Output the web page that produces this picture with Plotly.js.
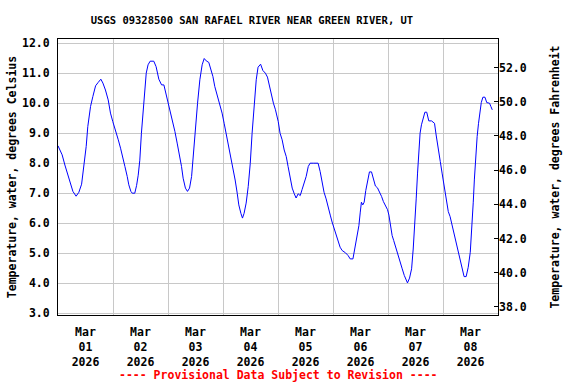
<!DOCTYPE html>
<html>
<head>
<meta charset="utf-8">
<script src="https://cdn.plot.ly/plotly-3.0.1.min.js"></script>
<style>html,body{margin:0;padding:0;background:#fff}#chart{width:576px;height:384px}</style>
</head>
<body>
<div id="chart"></div>
<script>
// Hours since 2026-03-01 00:00 (local) and water temperature (deg C)
const startDate = "2026-03-01";
const hours = [
  0,1.8,3.0,4.4,5.5,6.5,7.9,9.1,10.3,11.3,12.3,13.0,14.2,15.2,16.4,17.5,18.7,19.6,20.7,21.9,22.9,23.9,
  25.1,26.3,27.3,28.3,29.2,30.2,30.9,31.8,32.4,33.5,34.3,35.0,35.7,36.4,37.0,37.7,38.5,39.3,40.2,41.8,42.8,44.0,45.2,46.2,46.9,
  48.1,49.1,50.1,51.0,52.0,53.0,53.9,54.6,55.6,56.5,57.4,58.3,59.1,60.0,60.9,61.9,62.9,63.8,64.7,65.8,66.7,67.6,68.4,69.5,70.5,71.6,
  72.5,73.5,74.5,75.6,76.4,77.3,78.2,78.9,79.8,80.5,81.2,82.1,83.0,83.9,84.7,85.6,86.5,87.3,88.4,89.4,90.5,91.4,92.3,93.2,94.0,94.9,
  96.1,96.9,97.8,98.7,99.6,100.4,101.3,102.2,103.1,103.9,104.8,105.7,106.5,107.4,108.3,109.2,110.0,111.6,113.5,114.4,115.3,116.1,117.0,117.9,118.8,119.6,
  120.5,121.4,122.3,123.1,124.0,125.5,126.6,127.5,128.7,129.5,130.4,131.3,131.9,132.4,133.0,133.6,134.3,135.1,135.9,136.8,137.7,138.5,139.4,140.3,141.2,142.0,142.9,
  143.8,144.4,145.1,145.8,146.5,147.3,148.0,148.7,149.5,150.2,151.1,151.9,152.5,153.4,154.3,155.0,155.7,156.3,156.9,157.5,158.0,158.6,159.3,160.1,160.9,161.8,163.0,164.3,165.0,165.9,166.8,167.6,
  168.5,169.4,170.3,171.1,172.0,172.9,173.7,174.6,175.5,176.4,177.2,178.1,179.0,179.9,180.6,181.2,181.7,182.3,182.9,183.5,184.1,184.7,185.4,186.3,187.1,188.3,188.9,189.5
];
const tempC = [
  8.58,8.28,7.94,7.61,7.33,7.06,6.9,7.03,7.3,7.89,8.56,9.22,9.89,10.22,10.58,10.69,10.8,10.67,10.44,10.11,9.67,9.39,
  9.11,8.78,8.5,8.22,7.89,7.56,7.28,7.06,7.0,7.0,7.26,7.6,8.1,9.0,9.56,10.33,11.0,11.28,11.4,11.4,11.22,10.8,10.61,10.61,10.39,
  10.0,9.61,9.33,9.06,8.67,8.28,7.89,7.5,7.17,7.06,7.17,7.56,8.33,9.33,10.0,10.78,11.28,11.49,11.41,11.36,11.11,10.89,10.56,10.28,10.0,9.67,
  9.33,8.94,8.56,8.17,7.83,7.44,7.0,6.61,6.33,6.17,6.33,6.67,7.22,8.0,9.0,10.0,10.78,11.2,11.3,11.09,11.0,10.87,10.56,10.22,10.0,9.78,
  9.39,9.0,8.78,8.44,8.22,7.89,7.56,7.17,6.98,6.84,6.98,6.92,7.12,7.36,7.56,7.89,8.0,8.0,8.0,7.72,7.36,7.03,6.81,6.48,6.27,6.04,
  5.81,5.59,5.37,5.2,5.09,5.01,4.92,4.81,4.81,5.14,5.53,5.92,6.37,6.7,6.61,6.7,7.09,7.47,7.71,7.71,7.41,7.24,7.18,7.06,6.89,6.72,6.56,
  6.45,6.27,5.93,5.59,5.42,5.2,5.03,4.87,4.65,4.48,4.26,4.09,4.01,4.17,4.48,5.14,5.92,6.81,7.67,8.33,9.0,9.28,9.5,9.7,9.7,9.41,9.41,9.33,8.94,8.56,8.06,7.67,
  7.22,6.81,6.39,6.22,5.93,5.64,5.37,5.09,4.76,4.48,4.22,4.22,4.53,5.03,5.81,6.7,7.47,8.33,8.89,9.33,9.78,10.02,10.2,10.2,10.02,10.0,9.89,9.78
];
const celsiusRange = [2.94, 12.14];
const fahrenheitRange = [37.53, 53.67];
const xRange = ["2026-03-01 00:00", "2026-03-09 00:00"];
const titleText = "USGS 09328500 SAN RAFAEL RIVER NEAR GREEN RIVER, UT";
const leftTitle = "Temperature, water, degrees Celsius";
const rightTitle = "Temperature, water, degrees Fahrenheit";
const footer = "---- Provisional Data Subject to Revision ----";

function pad(n){return (n<10?"0":"")+n;}
const base = Date.UTC(2026,2,1,0,0,0);
const xDates = hours.map(h => {
  const d = new Date(base + Math.round(h*60)*60000);
  return d.getUTCFullYear()+"-"+pad(d.getUTCMonth()+1)+"-"+pad(d.getUTCDate())+" "+pad(d.getUTCHours())+":"+pad(d.getUTCMinutes());
});
const tempF = tempC.map(c => c*1.8+32);

const FONT = {family: "DejaVu Sans Mono, monospace", size: 11.5, color: "#000", weight: "bold"};

const traces = [
  {x: xDates, y: tempC, type: "scatter", mode: "lines", line: {color: "#0000ff", width: 1}, hoverinfo: "skip", showlegend: false},
  {x: xDates, y: tempF, yaxis: "y2", type: "scatter", mode: "lines", line: {color: "rgba(0,0,0,0)", width: 0}, hoverinfo: "skip", showlegend: false}
];

const layout = {
  width: 576, height: 384,
  margin: {l: 58, r: 78, t: 39, b: 69, pad: 0},
  paper_bgcolor: "#fff", plot_bgcolor: "#fff",
  font: FONT,
  showlegend: false,
  title: {text: titleText, font: {family: FONT.family, size: 10.5, color: "#000", weight: "bold"},
          x: 252/576, xref: "container", xanchor: "center", y: 1 - 20/384, yref: "container", yanchor: "middle"},
  xaxis: {
    type: "date", range: xRange, dtick: 86400000, tick0: "2026-03-01 00:00",
    tickformat: "%b<br>%d<br>%Y", ticklabelmode: "period",
    ticks: "outside", ticklen: 6, tickcolor: "rgba(0,0,0,0)",
    showgrid: true, gridcolor: "#c8c8c8", gridwidth: 1,
    showline: true, linecolor: "#000", linewidth: 1, mirror: true,
    zeroline: false, tickfont: FONT
  },
  yaxis: {
    range: celsiusRange, dtick: 1, tick0: 0, tickformat: ".1f",
    ticks: "outside", ticklen: 5, tickcolor: "rgba(0,0,0,0)",
    showgrid: true, gridcolor: "#c8c8c8", gridwidth: 1,
    showline: true, linecolor: "#000", linewidth: 1, mirror: true,
    zeroline: false, tickfont: FONT,
    title: {text: leftTitle, font: FONT, standoff: 2}
  },
  yaxis2: {
    overlaying: "y", side: "right", range: fahrenheitRange, dtick: 2, tick0: 38, tickformat: ".1f",
    ticks: "inside", ticklen: 4, tickcolor: "#000", tickwidth: 1,
    showgrid: false, zeroline: false, showline: false, tickfont: FONT,
    title: {text: rightTitle, font: FONT, standoff: 25}
  },
  annotations: [
    {text: footer, xref: "paper", yref: "paper", x: 0.5, y: -0.217, xanchor: "center", yanchor: "middle",
     showarrow: false, font: {family: FONT.family, size: 11.5, color: "#ff0000", weight: "bold"}}
  ]
};

Plotly.newPlot("chart", traces, layout, {staticPlot: true, displayModeBar: false});
</script>
</body>
</html>
